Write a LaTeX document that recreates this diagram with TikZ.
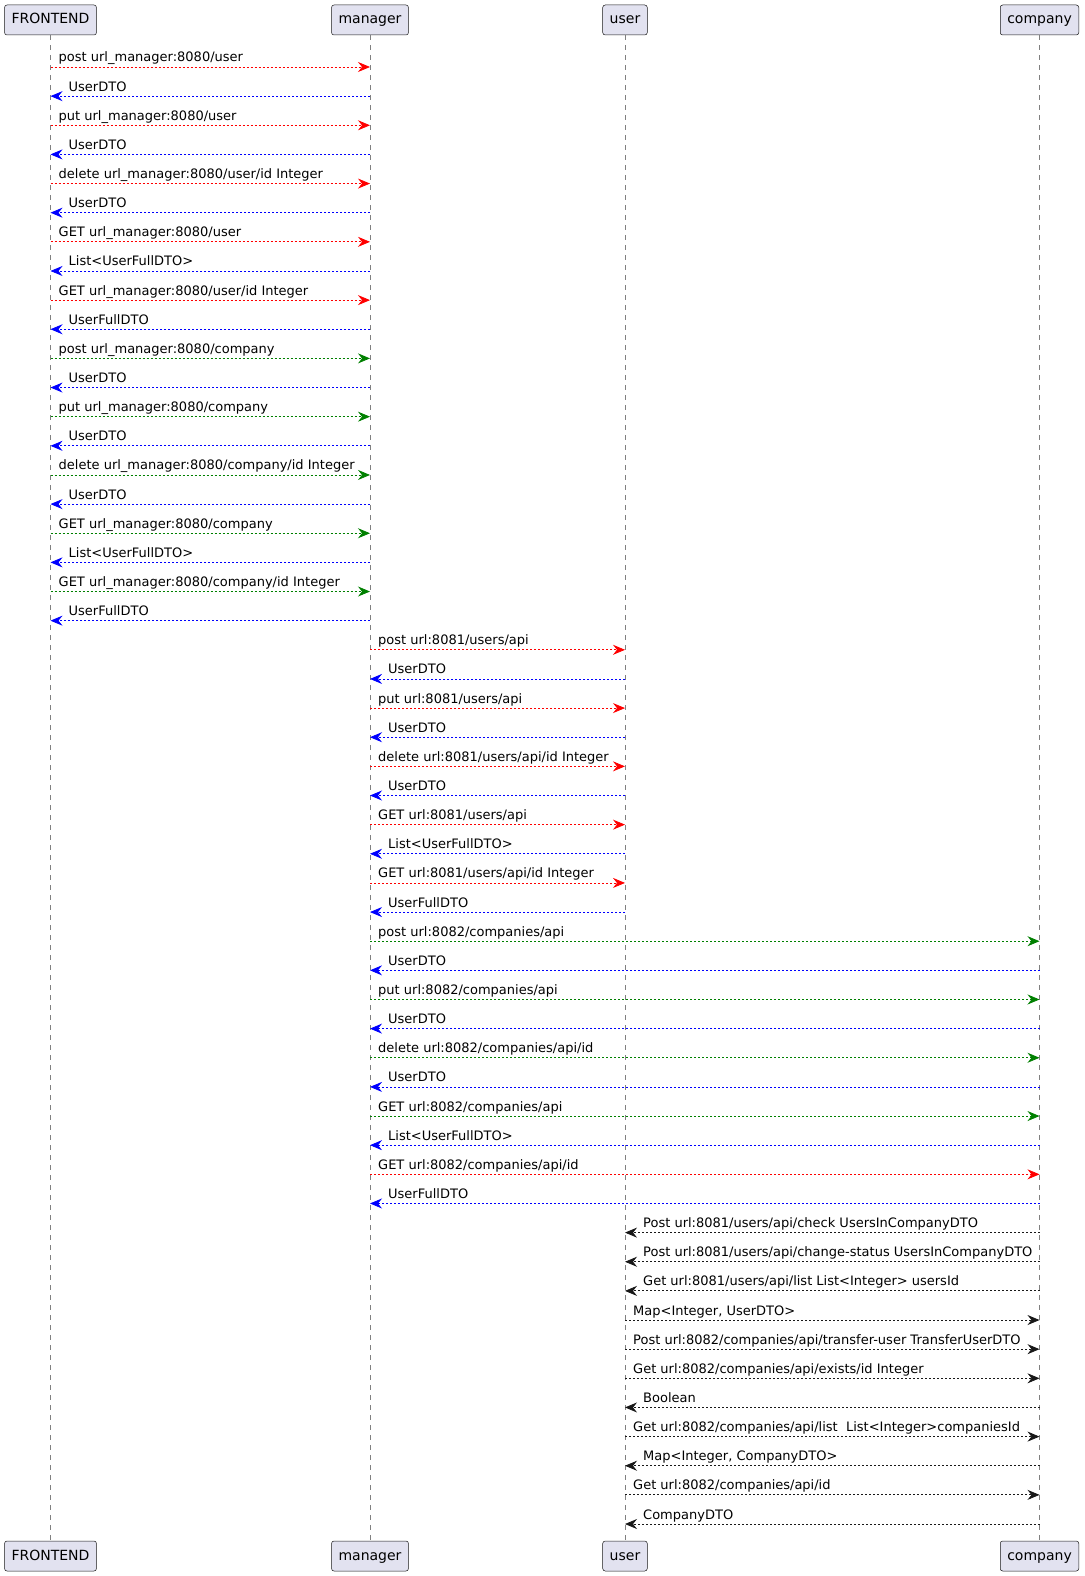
\documentclass[tikz,border=0pt]{standalone}
\usepackage{fontspec}
\setmainfont{DejaVu Sans}
\usetikzlibrary{calc,arrows.meta}
\definecolor{umlgreen}{HTML}{008000}
\definecolor{boxfill}{HTML}{E2E2F0}
\definecolor{boxline}{HTML}{181818}
\tikzset{
	actor/.style={draw=boxline, fill=boxfill, rounded corners=2.5pt, line width=0.5pt, minimum height=30pt, inner xsep=7pt, inner ysep=0pt, text height=10.5pt, text depth=2.5pt, font=\fontsize{14}{16}\selectfont},
	lifeline/.style={draw=black!50, line width=0.5pt, dash pattern=on 5pt off 5pt},
	msg/.style={line width=0.8pt, dash pattern=on 2pt off 2pt, -{Stealth[length=12pt, width=10pt, inset=4pt]}},
	msglabel/.style={anchor=base west, inner sep=0pt, font=\fontsize{13}{15}\selectfont}
}
% message to the right / to the left: from, to, row, colour, text
\def\msgright#1#2#3#4#5{\draw[msg,#4] (#1 |- 0,{67+29.14*#3}) -- (#2 |- 0,{67+29.14*#3});
	\node[msglabel] at ($(#1 |- 0,{67+29.14*#3})+(8,-5)$) {#5};}
\def\msgleft#1#2#3#4#5{\draw[msg,#4] (#1 |- 0,{67+29.14*#3}) -- (#2 |- 0,{67+29.14*#3});
	\node[msglabel] at ($(#2 |- 0,{67+29.14*#3})+(18,-5)$) {#5};}

\begin{document}
\begin{tikzpicture}[x=1pt, y=-1pt]
		%%%%% START %%%%%
		\useasboundingbox[fill=white] (0, 0) rectangle (1084, 1576);
		
		\node[actor] (fe) at (50.5, 20) {FRONTEND};
		\node[actor] (mg) at (370, 20) {manager};
		\node[actor] (us) at (625, 20) {user};
		\node[actor] (co) at (1039.5, 20) {company};
		
		\node[actor] (feb) at (50.5, 1556) {FRONTEND};
		\node[actor] (mgb) at (370, 1556) {manager};
		\node[actor] (usb) at (625, 1556) {user};
		\node[actor] (cob) at (1039.5, 1556) {company};
		
		\draw[lifeline] (fe) -- (feb);
		\draw[lifeline] (mg) -- (mgb);
		\draw[lifeline] (us) -- (usb);
		\draw[lifeline] (co) -- (cob);
		
		% FRONTEND - manager, users
		\msgright{fe}{mg}{0}{red}{post url\_manager:8080/user}
		\msgleft{mg}{fe}{1}{blue}{UserDTO}
		\msgright{fe}{mg}{2}{red}{put url\_manager:8080/user}
		\msgleft{mg}{fe}{3}{blue}{UserDTO}
		\msgright{fe}{mg}{4}{red}{delete url\_manager:8080/user/id Integer}
		\msgleft{mg}{fe}{5}{blue}{UserDTO}
		\msgright{fe}{mg}{6}{red}{GET url\_manager:8080/user}
		\msgleft{mg}{fe}{7}{blue}{List<UserFullDTO>}
		\msgright{fe}{mg}{8}{red}{GET url\_manager:8080/user/id Integer}
		\msgleft{mg}{fe}{9}{blue}{UserFullDTO}
		
		% FRONTEND - manager, companies
		\msgright{fe}{mg}{10}{umlgreen}{post url\_manager:8080/company}
		\msgleft{mg}{fe}{11}{blue}{UserDTO}
		\msgright{fe}{mg}{12}{umlgreen}{put url\_manager:8080/company}
		\msgleft{mg}{fe}{13}{blue}{UserDTO}
		\msgright{fe}{mg}{14}{umlgreen}{delete url\_manager:8080/company/id Integer}
		\msgleft{mg}{fe}{15}{blue}{UserDTO}
		\msgright{fe}{mg}{16}{umlgreen}{GET url\_manager:8080/company}
		\msgleft{mg}{fe}{17}{blue}{List<UserFullDTO>}
		\msgright{fe}{mg}{18}{umlgreen}{GET url\_manager:8080/company/id Integer}
		\msgleft{mg}{fe}{19}{blue}{UserFullDTO}
		
		% manager - user
		\msgright{mg}{us}{20}{red}{post url:8081/users/api}
		\msgleft{us}{mg}{21}{blue}{UserDTO}
		\msgright{mg}{us}{22}{red}{put url:8081/users/api}
		\msgleft{us}{mg}{23}{blue}{UserDTO}
		\msgright{mg}{us}{24}{red}{delete url:8081/users/api/id Integer}
		\msgleft{us}{mg}{25}{blue}{UserDTO}
		\msgright{mg}{us}{26}{red}{GET url:8081/users/api}
		\msgleft{us}{mg}{27}{blue}{List<UserFullDTO>}
		\msgright{mg}{us}{28}{red}{GET url:8081/users/api/id Integer}
		\msgleft{us}{mg}{29}{blue}{UserFullDTO}
		
		% manager - company
		\msgright{mg}{co}{30}{umlgreen}{post url:8082/companies/api}
		\msgleft{co}{mg}{31}{blue}{UserDTO}
		\msgright{mg}{co}{32}{umlgreen}{put url:8082/companies/api}
		\msgleft{co}{mg}{33}{blue}{UserDTO}
		\msgright{mg}{co}{34}{umlgreen}{delete url:8082/companies/api/id}
		\msgleft{co}{mg}{35}{blue}{UserDTO}
		\msgright{mg}{co}{36}{umlgreen}{GET url:8082/companies/api}
		\msgleft{co}{mg}{37}{blue}{List<UserFullDTO>}
		\msgright{mg}{co}{38}{red}{GET url:8082/companies/api/id}
		\msgleft{co}{mg}{39}{blue}{UserFullDTO}
		
		% user - company
		\msgleft{co}{us}{40}{boxline}{Post url:8081/users/api/check UsersInCompanyDTO}
		\msgleft{co}{us}{41}{boxline}{Post url:8081/users/api/change-status UsersInCompanyDTO}
		\msgleft{co}{us}{42}{boxline}{Get url:8081/users/api/list List<Integer> usersId}
		\msgright{us}{co}{43}{boxline}{Map<Integer, UserDTO>}
		\msgright{us}{co}{44}{boxline}{Post url:8082/companies/api/transfer-user TransferUserDTO}
		\msgright{us}{co}{45}{boxline}{Get url:8082/companies/api/exists/id Integer}
		\msgleft{co}{us}{46}{boxline}{Boolean}
		\msgright{us}{co}{47}{boxline}{Get url:8082/companies/api/list~ List<Integer>companiesId}
		\msgleft{co}{us}{48}{boxline}{Map<Integer, CompanyDTO>}
		\msgright{us}{co}{49}{boxline}{Get url:8082/companies/api/id}
		\msgleft{co}{us}{50}{boxline}{CompanyDTO}
		
		%%%%% END %%%%%
	\end{tikzpicture}
\end{document}
